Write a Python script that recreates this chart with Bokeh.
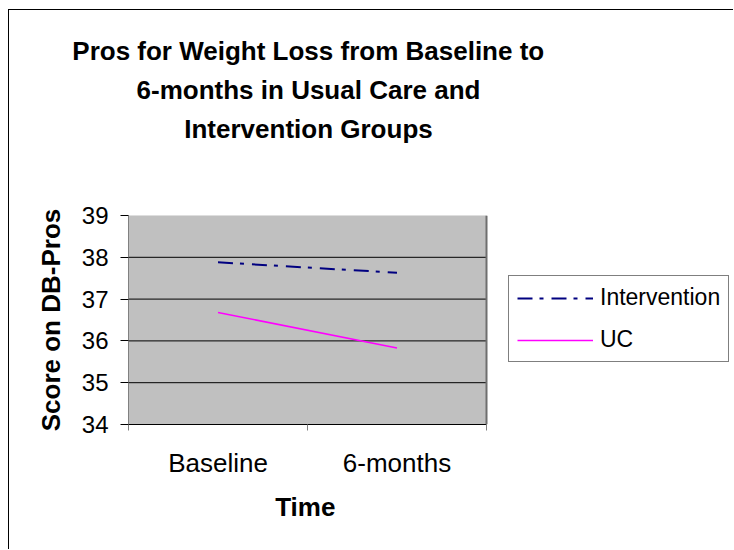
from bokeh.plotting import figure
from bokeh.models import (FixedTicker, Legend, LegendItem, Span, Range1d,
                          BoxAnnotation, Title)
from bokeh.embed import file_html
from bokeh.resources import INLINE

categories = ["Baseline", "6-months"]
intervention = [37.88, 37.63]
uc = [36.68, 35.83]
y_ticks = [34, 35, 36, 37, 38, 39]
title_lines = ["Pros for Weight Loss from Baseline to",
               "6-months in Usual Care and",
               "Intervention Groups"]
x_title = "Time"
y_title = "Score on DB-Pros"

n = len(categories)
xs = [i + 0.5 for i in range(n)]

# layout (pixels)
W, H = 725, 540
LEFT, TOP, BOTTOM = 119, 205, 126
PLOT_W = 358                      # width of the grey plot area
FRAME_W = W - LEFT                # frame extends to the right edge (room for legend)
x_end = n * FRAME_W / PLOT_W

FONT = "Liberation Sans"

p = figure(width=W, height=H, output_backend="svg", toolbar_location=None,
           x_range=Range1d(0, x_end), y_range=Range1d(y_ticks[0], y_ticks[-1]),
           min_border_left=LEFT, min_border_right=0, min_border_top=TOP,
           min_border_bottom=BOTTOM, title=None)
p.styles = {"margin-left": "8px", "margin-top": "9px",
            "border-left": "1px solid #000000", "border-top": "1px solid #000000"}
p.background_fill_color = "white"
p.border_fill_color = "white"
p.outline_line_color = None

# grey plot area
p.add_layout(BoxAnnotation(left=0, right=n, fill_color="#C0C0C0", fill_alpha=1,
                           line_color="#808080", line_width=1, level="underlay"))

# x axis
p.xaxis.bounds = (0, n)
p.xaxis.ticker = FixedTicker(ticks=xs, minor_ticks=list(range(n + 1)))
p.xaxis.major_label_overrides = {x: c for x, c in zip(xs, categories)}
p.xaxis.major_tick_line_color = None
p.xaxis.minor_tick_out = 6
p.xaxis.minor_tick_in = 0
p.xaxis.minor_tick_line_color = "#808080"
p.xaxis.axis_line_color = "black"
p.xaxis.major_label_text_font = FONT
p.xaxis.major_label_text_font_size = "26px"
p.xaxis.major_label_text_color = "black"
p.xaxis.major_label_standoff = 17

# y axis
p.yaxis.ticker = FixedTicker(ticks=y_ticks)
p.yaxis.minor_tick_line_color = None
p.yaxis.major_tick_out = 8
p.yaxis.major_tick_in = 0
p.yaxis.major_tick_line_color = "black"
p.yaxis.axis_line_color = "#808080"
p.yaxis.major_label_text_font = FONT
p.yaxis.major_label_text_font_size = "24px"
p.yaxis.major_label_text_color = "black"
p.yaxis.major_label_standoff = 12
p.yaxis.axis_label = y_title
p.yaxis.axis_label_text_font = FONT
p.yaxis.axis_label_text_font_size = "26px"
p.yaxis.axis_label_text_font_style = "bold"
p.yaxis.axis_label_text_color = "black"
p.yaxis.axis_label_standoff = 13

p.xgrid.grid_line_color = None
p.ygrid.grid_line_color = None

# horizontal grid lines across the plot area only
gy = y_ticks[1:-1]
p.segment(x0=[0] * len(gy), x1=[n] * len(gy), y0=gy, y1=gy,
          line_color="black", line_width=1)

# shadow on right edge of plot area
p.add_layout(Span(location=n, dimension="height", line_color="#6E6E6E", line_width=2))

r1 = p.line(xs, intervention, line_color="#000080", line_width=2, line_dash="15 7 4 8")
r2 = p.line(xs, uc, line_color="#FF00FF", line_width=1.5)

legend = Legend(items=[LegendItem(label="Intervention", renderers=[r1]),
                       LegendItem(label="UC", renderers=[r2])],
                location=(380, 62), orientation="vertical",
                border_line_color="black", border_line_width=1,
                background_fill_color="white", background_fill_alpha=1,
                label_text_font=FONT, label_text_font_size="23px",
                label_text_color="black",
                glyph_width=76, glyph_height=20, label_height=20,
                label_standoff=7, spacing=15, padding=8, margin=0)
p.add_layout(legend, "center")

# text widths (em) of Liberation Sans Bold, used to centre each line on the plot area
EM = {"Pros for Weight Loss from Baseline to": 18.17,
      "6-months in Usual Care and": 13.225,
      "Intervention Groups": 9.557,
      "Time": 2.334}
FS = 26
CENTER = 180   # px from frame left: centre of the title block
XCENTER = 177  # px from frame left: centre of the x-axis title


def left_offset(text, center):
    return center - EM[text] * FS / 2


p.add_layout(Title(text=x_title, align="left", offset=left_offset(x_title, XCENTER),
                   text_font=FONT, text_font_size=f"{FS}px", text_font_style="bold",
                   text_color="black", standoff=18), "below")

# spacer between plot area and the title block
p.add_layout(Title(text=" ", align="left", text_font=FONT, text_font_size=f"{FS}px",
                   text_font_style="bold", standoff=36), "above")
for t in reversed(title_lines):
    p.add_layout(Title(text=t, align="left", offset=left_offset(t, CENTER),
                       text_font=FONT, text_font_size=f"{FS}px", text_font_style="bold",
                       text_color="black", standoff=6.5), "above")

open("out.html", "w").write(file_html(p, INLINE))
